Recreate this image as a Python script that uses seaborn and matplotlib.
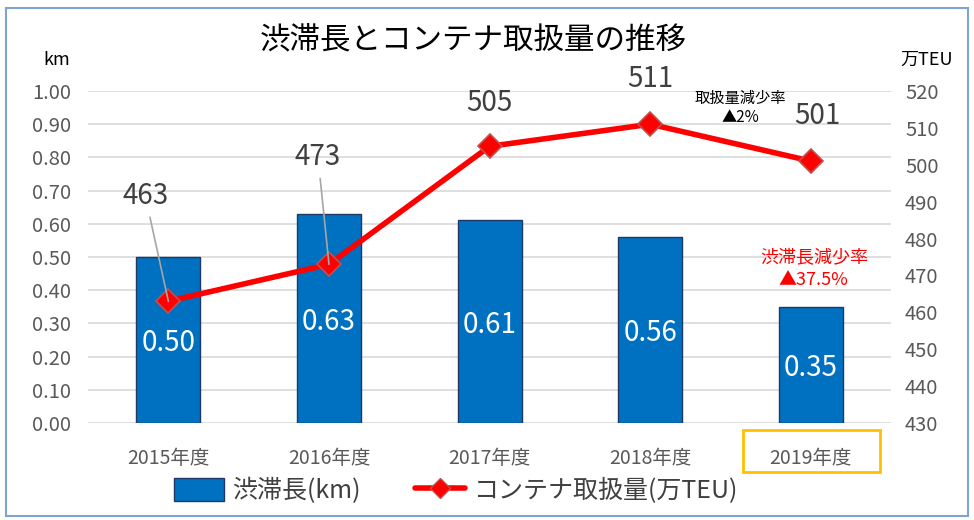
import matplotlib.pyplot as plt
import seaborn as sns
from matplotlib.lines import Line2D
from matplotlib.patches import Patch, Rectangle

# data
years = ["2015年度", "2016年度", "2017年度", "2018年度", "2019年度"]
congestion_km = [0.50, 0.63, 0.61, 0.56, 0.35]
container_teu = [463, 473, 505, 511, 501]
# label offsets (pixels) for the TEU data labels
teu_label_offsets = [(-23, 105), (-11, 107), (0, 43), (0, 45), (6, 45)]

sns.set_theme(style="white")
plt.rcParams["font.family"] = ["Noto Sans CJK JP", "DejaVu Sans"]

fig = plt.figure(figsize=(9.74, 5.2), dpi=100)
ax = fig.add_axes([0.0904, 0.1865, 0.8246, 0.6385])

sns.barplot(x=years, y=congestion_km, ax=ax, color="#0070C0", width=0.4,
            edgecolor="#1F3864", linewidth=1.0, saturation=1)
ax.set_ylim(0, 1.0)
ax.set_yticks([i / 10 for i in range(11)])
ax.set_yticklabels([f"{i / 10:.2f}" for i in range(11)])
ax.yaxis.grid(True, color="#D9D9D9", linewidth=1.2)
ax.set_axisbelow(True)
ax.tick_params(axis="y", labelsize=14.5, colors="#595959", length=0, pad=12)
ax.tick_params(axis="x", labelsize=14, colors="#595959", length=0, pad=18)
for s in ax.spines.values():
    s.set_visible(False)

for i, v in enumerate(congestion_km):
    ax.text(i, v / 2 - 0.01, f"{v:.2f}", color="white", ha="center", va="center", fontsize=20)

ax2 = ax.twinx()
sns.pointplot(x=years, y=container_teu, ax=ax2, color="#FF0000", markers="D",
              linewidth=4, markersize=12, markeredgecolor="#C0504D", markeredgewidth=1.2)
ax2.set_ylim(430, 520)
ax2.set_yticks(range(430, 521, 10))
ax2.tick_params(axis="y", labelsize=14.5, colors="#595959", length=0, pad=10)
for s in ax2.spines.values():
    s.set_visible(False)
ax.set_xlim(-0.5, 4.5)
ax2.set_xlim(-0.5, 4.5)
ax.set_xlabel("")
ax.set_ylabel("")
ax2.set_ylabel("")

for i, (v, off) in enumerate(zip(container_teu, teu_label_offsets)):
    arrow = dict(arrowstyle="-", color="#A6A6A6", lw=1.2, shrinkA=2, shrinkB=0) if i < 2 else None
    ax2.annotate(str(v), xy=(i, v), xytext=off, textcoords="offset pixels",
                 ha="center", va="center", fontsize=20, color="#404040", arrowprops=arrow)

# titles and unit labels
fig.text(0.486, 0.923, "渋滞長とコンテナ取扱量の推移", ha="center", va="center", fontsize=22, color="black")
fig.text(0.058, 0.885, "km", ha="center", va="center", fontsize=13, color="black")
fig.text(0.951, 0.885, "万TEU", ha="center", va="center", fontsize=13, color="black")

# rate annotations
fig.text(0.760, 0.8115, "取扱量減少率", ha="center", va="center", fontsize=11, color="black")
fig.text(0.760, 0.775, "▲2%", ha="center", va="center", fontsize=11, color="black")
fig.text(0.836, 0.506, "渋滞長減少率", ha="center", va="center", fontsize=13, color="#FF0000")
fig.text(0.835, 0.4615, "▲37.5%", ha="center", va="center", fontsize=13, color="#FF0000")

# highlight box around 2019
fig.patches.append(Rectangle((0.763, 0.0923), 0.1407, 0.0808, transform=fig.transFigure,
                             fill=False, edgecolor="#FFC000", linewidth=2))
# outer border
fig.patches.append(Rectangle((0.006, 0.008), 0.988, 0.977, transform=fig.transFigure,
                             fill=False, edgecolor="#7FA3D6", linewidth=1.5))

handles = [
    Patch(facecolor="#0070C0", edgecolor="#1F3864", label="渋滞長(km)"),
    Line2D([0], [0], color="#FF0000", lw=4, marker="D", markersize=10,
           markeredgecolor="#C0504D", label="コンテナ取扱量(万TEU)"),
]
fig.legend(handles=handles, loc="center", bbox_to_anchor=(0.468, 0.056), ncol=2,
           frameon=False, fontsize=18, handlelength=2.0, handleheight=1.0,
           columnspacing=2.2, handletextpad=0.3, labelcolor="#404040")

fig.savefig("out.png", dpi=100)
